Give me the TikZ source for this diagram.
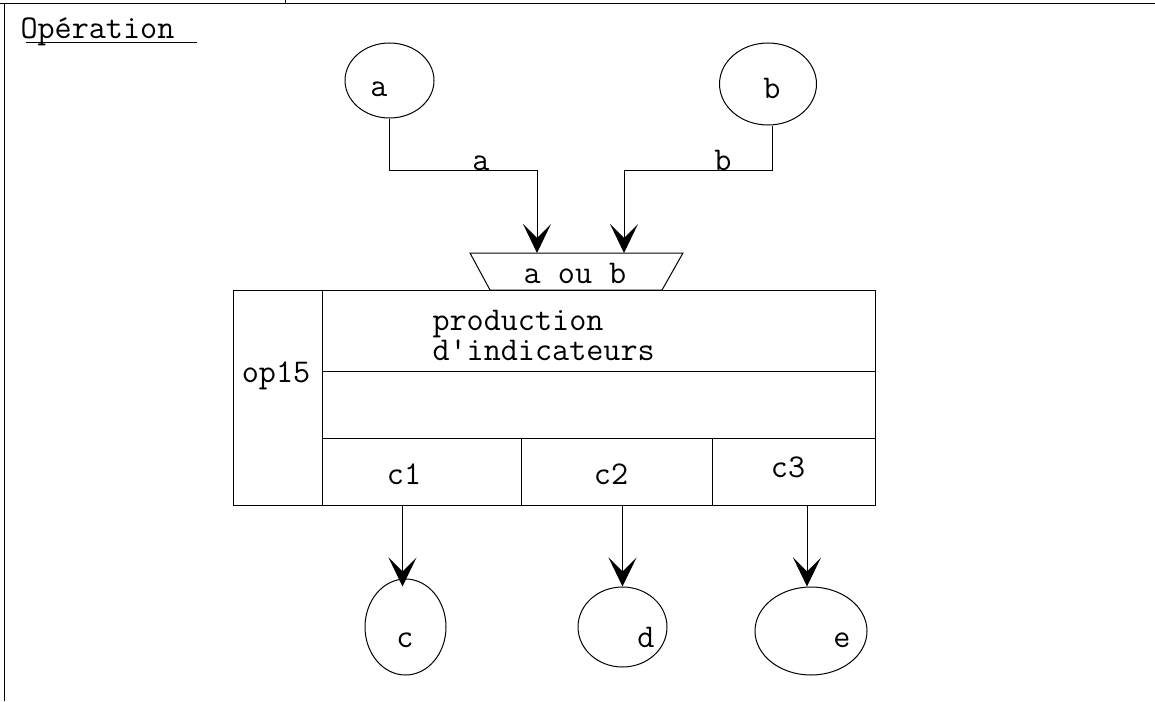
\documentclass[tikz,border=0pt]{standalone}
\usepackage{fontspec}
\usetikzlibrary{arrows.meta, shapes.geometric}

\tikzset{
    txt/.style={font=\ttfamily\fontsize{16.6}{17}\selectfont, inner sep=0pt, anchor=base},
    ell/.style={draw, ellipse, inner sep=0pt},
    flow/.style={-{Stealth[length=14.5pt, width=14pt, inset=7pt]}},
}

\begin{document}
\begin{tikzpicture}[x=0.5pt, y=-0.5pt, line width=0.5pt]
    \useasboundingbox (0,0) rectangle (1155,701);
    % frame
    \draw (0,4) -- (1155,4);
    \draw (285,0) -- (285,4);
    \draw (4,4) -- (4,701);
    \node [txt, anchor=base west] (titre) at (20,39) {Opération};
    \draw (26,43) -- (197,43);
    % inputs
    \node [ell, minimum width=44.5pt, minimum height=37.5pt] (a) at (389.5,80.5) {};
    \node [ell, minimum width=48.5pt, minimum height=41pt] (b) at (768,84) {};
    \node [txt] (ta) at (379,97) {a};
    \node [txt] (tb) at (772,98) {b};
    \coordinate (ka) at (537,170);
    \coordinate (kb) at (624,170);
    \coordinate (ina) at (537,253);
    \coordinate (inb) at (624,253);
    \draw [flow] (a.south) |- (ka) -- (ina);
    \draw [flow] ([xshift=2pt]b.south) |- (kb) -- (inb);
    \node [txt] (la) at (481,170) {a};
    \node [txt] (lb) at (723,170) {b};
    % trigger
    \draw (470,253) -- (683,253) -- (662,290) -- (490,290) -- cycle;
    \node [txt] (ou) at (575,283) {a ou b};
    % operation box
    \draw (233,290) rectangle (875,505);
    \draw (322,290) -- (322,505);
    \draw (322,371) -- (875,371);
    \draw (322,438) -- (875,438);
    \draw (521,438) -- (521,505);
    \draw (712,438) -- (712,505);
    \coordinate (bas) at (0,505);
    \node [txt] (op) at (276,382) {op15};
    \node [txt, anchor=base west] (prod) at (432,330) {production};
    \node [txt, anchor=base west] (ind) at (432,360) {d'indicateurs};
    \node [txt] (c1) at (404,484) {c1};
    \node [txt] (c2) at (611,484) {c2};
    \node [txt] (c3) at (788,477) {c3};
    % outputs
    \node [ell, minimum width=40.5pt, minimum height=48pt] (c) at (405.5,627) {};
    \node [ell, minimum width=44.5pt, minimum height=40pt] (d) at (622.5,627) {};
    \node [ell, minimum width=56pt, minimum height=44pt] (e) at (811,631) {};
    \node [txt] (tc) at (405,647) {c};
    \node [txt] (td) at (646,647) {d};
    \node [txt] (te) at (842,647) {e};
    \draw [flow] ([xshift=-1.5pt]c.north |- bas) -- ([xshift=-1.5pt, yshift=-4pt]c.north);
    \draw [flow] (d.north |- bas) -- (d.north);
    \draw [flow] ([xshift=-2pt]e.north |- bas) -- ([xshift=-2pt]e.north);
\end{tikzpicture}
\end{document}
